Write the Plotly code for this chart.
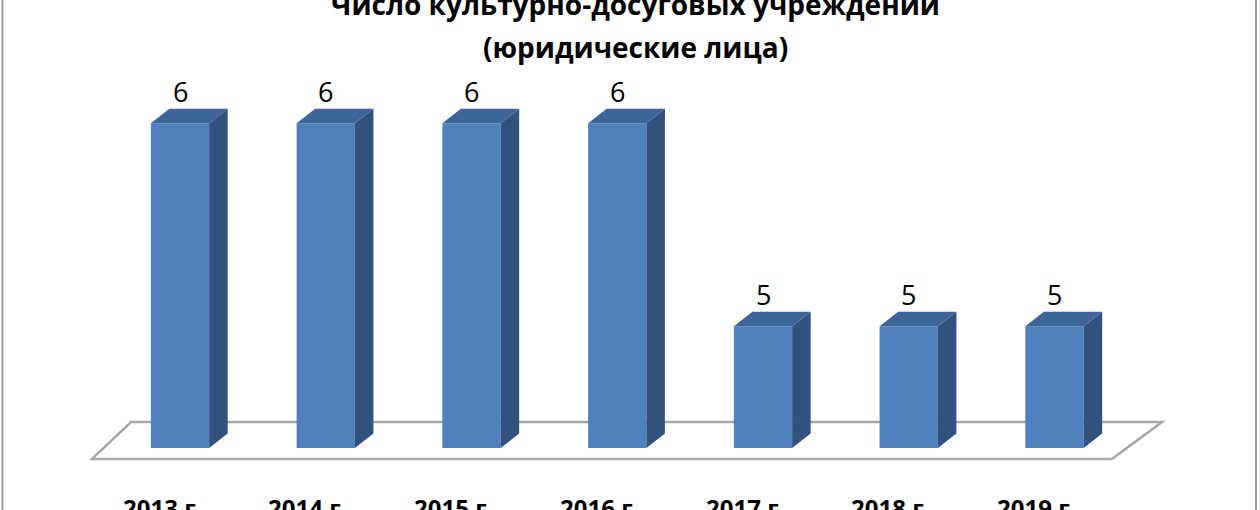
import plotly.graph_objects as go

# Данные
years = ['2013 г.', '2014 г.', '2015 г.', '2016 г.', '2017 г.', '2018 г.', '2019 г.']
values = [6, 6, 6, 6, 5, 5, 5]

title_line1 = 'Число культурно-досуговых учреждений'
title_line2 = '(юридические лица)'

# Оформление
Y_MIN = 4.4            # уровень "пола" диаграммы
BAR_W = 0.40           # ширина передней грани
DX, DY = 0.127, 0.071  # глубина (псевдо-3D)
FRONT = '#4F81BD'
SIDE = '#31527E'
TOP = '#3D6597'
FONT = 'Open Sans'

n = len(values)
idx = list(range(n))

fig = go.Figure()

# Передние грани
fig.add_trace(go.Bar(x=idx, y=[v - Y_MIN for v in values], base=Y_MIN,
                     width=BAR_W, marker_color=FRONT, marker_line_width=0,
                     hoverinfo='skip'))

# Боковые и верхние грани
for i, v in zip(idx, values):
    l, r = i - BAR_W / 2, i + BAR_W / 2
    fig.add_trace(go.Scatter(
        x=[r, r + DX, r + DX, r, r], y=[Y_MIN, Y_MIN + DY, v + DY, v, Y_MIN],
        mode='lines', fill='toself', fillcolor=SIDE, line=dict(width=0),
        hoverinfo='skip'))
    fig.add_trace(go.Scatter(
        x=[l, l + DX, r + DX, r, l], y=[v, v + DY, v + DY, v, v],
        mode='lines', fill='toself', fillcolor=TOP, line=dict(width=0),
        hoverinfo='skip'))

# Пол (под столбцами)
back, front = Y_MIN + 0.128, Y_MIN - 0.054
floor_path = (f'M {-0.336},{back} L {n - 1 + 0.738},{back} '
              f'L {n - 1 + 0.394},{front} L {-0.604},{front} Z')

annotations = []
# Подписи значений
for i, v in zip(idx, values):
    annotations.append(dict(x=i, y=v, text=str(v), showarrow=False,
                            yanchor='middle', yshift=32,
                            font=dict(family=FONT, size=27, color='black')))
# Подписи категорий
for i, lab in zip(idx, years):
    annotations.append(dict(x=i, y=4.108, text='<b>' + lab + '</b>', showarrow=False,
                            yanchor='middle', xshift=-18,
                            font=dict(family=FONT, size=24, color='black')))
# Заголовок
annotations.append(dict(x=0.504, y=1, xref='paper', yref='paper', yanchor='middle',
                        yshift=-4, text='<b>' + title_line1 + '</b>', showarrow=False,
                        font=dict(family=FONT, size=28, color='black')))
annotations.append(dict(x=0.504, y=1, xref='paper', yref='paper', yanchor='middle',
                        yshift=-47, text='<b>' + title_line2 + '</b>', showarrow=False,
                        font=dict(family=FONT, size=28, color='black')))

shapes = [dict(type='path', path=floor_path, xref='x', yref='y', layer='below',
               fillcolor='white', line=dict(color='#A6A6A6', width=2.5))]
shapes += [dict(type='line', xref='paper', yref='paper', x0=x, x1=x, y0=-0.1, y1=1.1,
                line=dict(color='#A0A0A0', width=2))
           for x in (2.5 / 1260, 1256 / 1260)]

fig.update_layout(
    width=1260, height=510,
    margin=dict(l=0, r=0, t=0, b=0),
    paper_bgcolor='white', plot_bgcolor='white',
    showlegend=False,
    xaxis=dict(range=[-180 / 145.75, 1080 / 145.75], visible=False),
    yaxis=dict(range=[Y_MIN - 62 / 203, Y_MIN + 448 / 203], visible=False),
    annotations=annotations,
    shapes=shapes,
)

fig.write_html('out.html', config={'displayModeBar': False},
               post_script="document.body.style.margin='0';")
